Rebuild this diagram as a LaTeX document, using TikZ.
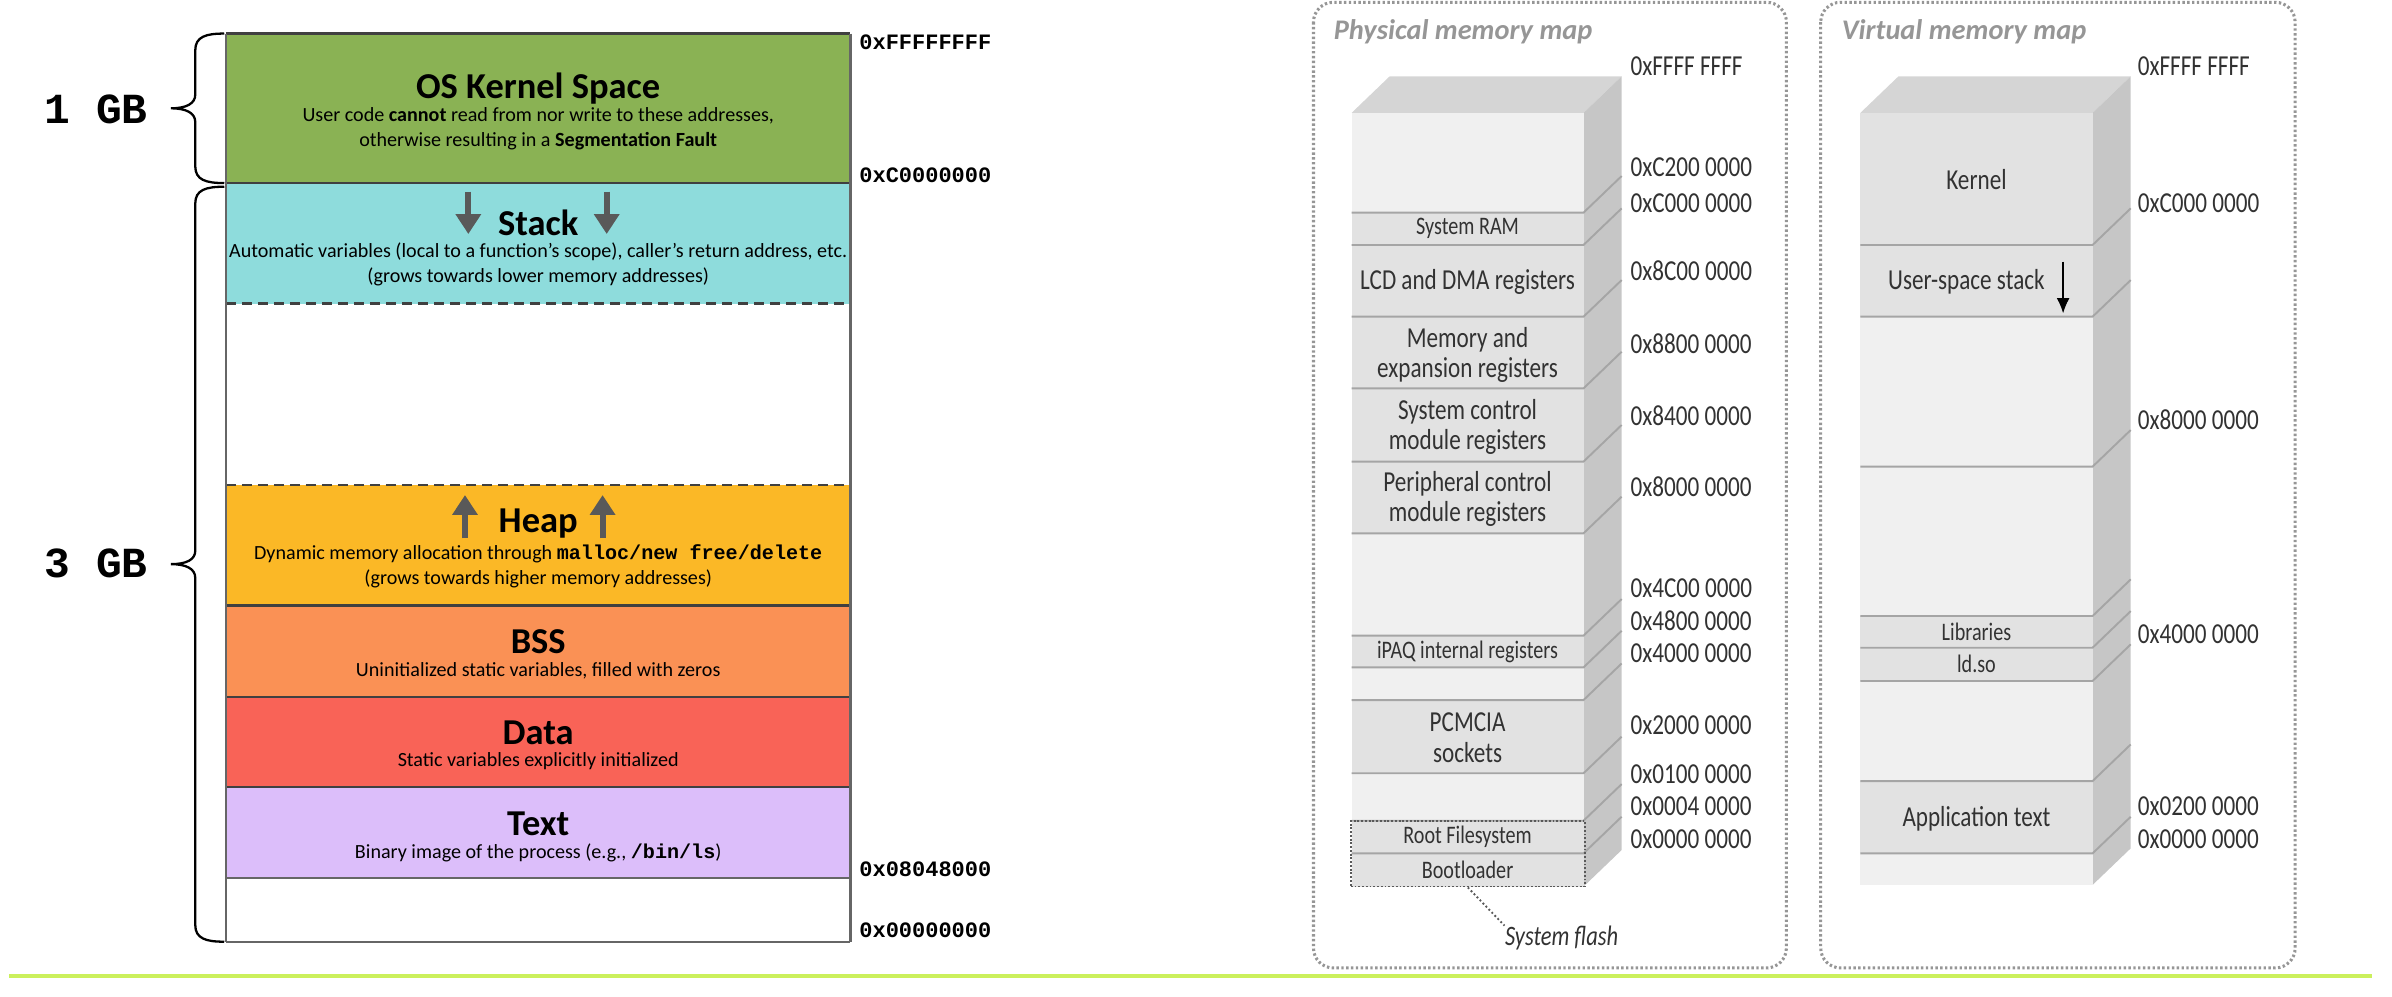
\documentclass[tikz,border=0pt]{standalone}
\usepackage{fontspec}
\setmainfont{Carlito}
\setmonofont{Liberation Mono}
\newfontfamily\condfont[FakeStretch=0.8]{Carlito}
\usetikzlibrary{arrows.meta}

\definecolor{kernelc}{RGB}{138,178,84}
\definecolor{stackc}{RGB}{142,220,220}
\definecolor{heapc}{RGB}{251,184,38}
\definecolor{bssc}{RGB}{250,145,85}
\definecolor{datac}{RGB}{249,99,87}
\definecolor{textc}{RGB}{220,190,250}
\definecolor{frontc}{RGB}{240,240,240}
\definecolor{usedc}{RGB}{226,226,226}
\definecolor{topc}{RGB}{213,213,213}
\definecolor{sidec}{RGB}{198,198,198}
\definecolor{sepc}{RGB}{165,165,165}
\definecolor{mapc}{RGB}{50,50,50}
\definecolor{panelc}{RGB}{150,150,150}
\definecolor{rulec}{RGB}{203,240,92}

\begin{document}
\begin{tikzpicture}[x=0.2mm, y=-0.2mm,
    segtitle/.style={font=\fontsize{13.6}{16}\selectfont\bfseries},
    segtext/.style={font=\fontsize{7.5}{9.4}\selectfont, align=center},
    addr/.style={anchor=west, inner sep=0pt, font=\fontsize{8.2}{10}\selectfont\ttfamily\bfseries},
    gblabel/.style={font=\fontsize{16}{18}\selectfont\ttfamily\bfseries},
    bound/.style={line width=0.3mm, black!75},
    splitline/.style={bound, dash pattern=on 1.3mm off 0.8mm},
    growarrow/.style={line width=0.8mm, black!65, -{Triangle[width=3.2mm, length=2.6mm]}},
    bracket/.style={line width=0.3mm},
    maplbl/.style={font=\condfont\fontsize{10.8}{11.3}\selectfont, text=mapc, align=center, inner sep=0pt},
    maplblsmall/.style={maplbl, font=\condfont\fontsize{9.4}{11}\selectfont},
    mapaddr/.style={anchor=west, inner sep=0pt, font=\condfont\fontsize{10.8}{12}\selectfont, text=mapc},
    sepline/.style={sepc, line width=0.25mm},
    panel/.style={panelc, line width=0.4mm, dash pattern=on 0.9pt off 0.9pt, rounded corners=2.6mm},
    maptitle/.style={anchor=west, inner sep=0pt, text=panelc, font=\fontsize{10.6}{12}\selectfont\bfseries\itshape},
    flashbox/.style={draw=black!65, line width=0.25mm, dash pattern=on 0.7pt off 0.7pt, inner sep=0pt, minimum width=30.7mm, minimum height=8.6mm},
    flashlbl/.style={font=\condfont\fontsize{10.5}{12}\selectfont\itshape, text=mapc, inner sep=0pt}]

    \useasboundingbox (0,0) rectangle (1568,653);

    %Segments
    \fill[kernelc] (148,22) rectangle (557.5,120);
    \fill[stackc] (148,120) rectangle (557.5,199);
    \fill[heapc] (148,318) rectangle (557.5,397);
    \fill[bssc] (148,397) rectangle (557.5,457);
    \fill[datac] (148,457) rectangle (557.5,516);
    \fill[textc] (148,516) rectangle (557.5,575.6);

    \draw[bound] (148,22) -- (557.5,22);
    \draw[bound] (148,120) -- (557.5,120);
    \draw[splitline] (148,199) -- (557.5,199);
    \draw[splitline] (148,318) -- (557.5,318);
    \draw[bound] (148,397) -- (557.5,397);
    \draw[bound] (148,457) -- (557.5,457);
    \draw[bound] (148,516) -- (557.5,516);
    \draw[bound, black!60] (148,575.6) -- (557.5,575.6);
    \draw[bound, black!60] (148,617.5) -- (557.5,617.5);
    \draw[bound, black!60] (148,22) -- (148,617.5);
    \draw[bound, black!60] (557.5,22) -- (557.5,617.5);

    \node[segtitle] (kerneltitle) at (352.8,57.9) {OS Kernel Space};
    \node[segtext] (kerneltext) at (352.8,84.2) {User code \textbf{cannot} read from nor write to these addresses,\\otherwise resulting in a \textbf{Segmentation Fault}};
    \node[segtitle] (stacktitle) at (352.8,146) {Stack};
    \node[segtext] (stacktext) at (352.8,173.4) {Automatic variables (local to a function's scope), caller's return address, etc.\\(grows towards lower memory addresses)};
    \node[segtitle] (heaptitle) at (352.8,343) {Heap};
    \node[segtext] (heaptext) at (352.8,371.2) {Dynamic memory allocation through \texttt{\textbf{malloc/new free/delete}}\\(grows towards higher memory addresses)};
    \node[segtitle] (bsstitle) at (352.8,420.6) {BSS};
    \node[segtext] (bsstext) at (352.8,439.9) {Uninitialized static variables, filled with zeros};
    \node[segtitle] (datatitle) at (352.8,480.3) {Data};
    \node[segtext] (datatext) at (352.8,498.9) {Static variables explicitly initialized};
    \node[segtitle] (texttitle) at (352.8,539.7) {Text};
    \node[segtext] (texttext) at (352.8,559) {Binary image of the process (e.g., \texttt{\textbf{/bin/ls}})};

    % growth arrows
    \draw[growarrow] (307,125.6) -- (307,153.4);
    \draw[growarrow] (397.7,125.6) -- (397.7,153.4);
    \draw[growarrow] (304.8,352.9) -- (304.8,324.5);
    \draw[growarrow] (395,352.9) -- (395,324.5);

    % addresses
    \node[addr] (afff) at (563,27.8) {0xFFFFFFFF};
    \node[addr] (ac00) at (563,114.7) {0xC0000000};
    \node[addr] (a804) at (563,570) {0x08048000};
    \node[addr] (a000) at (563,610) {0x00000000};

    % braces
    \draw[bracket] (147,22) .. controls (135,22) and (128,24) .. (128,33) -- (128,62)
        .. controls (128,68) and (122,71) .. (112,71) .. controls (122,71) and (128,74) .. (128,80)
        -- (128,109) .. controls (128,118) and (135,120) .. (147,120);
    \draw[bracket] (147,122.4) .. controls (135,122.4) and (128,124.4) .. (128,133.4) -- (128,361)
        .. controls (128,367) and (122,369.8) .. (112,369.8) .. controls (122,369.8) and (128,372.8) .. (128,378.8)
        -- (128,606.3) .. controls (128,615.3) and (135,617.3) .. (147,617.3);
    \node[gblabel] (onegb) at (63,72) {1 GB};
    \node[gblabel] (threegb) at (63,369.3) {3 GB};

    % Physical map
    \draw[panel] (861,1.5) rectangle (1171,634.5);
    \node[maptitle] (physmap) at (874,20.8) {Physical memory map};

    \fill[topc] (886,74) -- (911,50) -- (1063,50) -- (1038,74) -- cycle;
    \fill[sidec] (1038,74) -- (1063,50) -- (1063,557.2) -- (1038,581.2) -- cycle;
    \fill[frontc] (886,74) rectangle (1038,581.2);
    \fill[usedc] (886,139.4) rectangle (1038,349.6);
    \fill[usedc] (886,416.7) rectangle (1038,437.5);
    \fill[usedc] (886,458.9) rectangle (1038,506.9);
    \fill[usedc] (886,538) rectangle (1038,581.2);

    \draw[sepline] (886,139.4) -- (1038,139.4) -- (1063,115.4);
    \draw[sepline] (886,160.6) -- (1038,160.6) -- (1063,136.6);
    \draw[sepline] (886,207.6) -- (1038,207.6) -- (1063,183.6);
    \draw[sepline] (886,254.6) -- (1038,254.6) -- (1063,230.6);
    \draw[sepline] (886,302.6) -- (1038,302.6) -- (1063,278.6);
    \draw[sepline] (886,349.6) -- (1038,349.6) -- (1063,325.6);
    \draw[sepline] (886,416.7) -- (1038,416.7) -- (1063,392.7);
    \draw[sepline] (886,437.5) -- (1038,437.5) -- (1063,413.5);
    \draw[sepline] (886,458.9) -- (1038,458.9) -- (1063,434.9);
    \draw[sepline] (886,506.9) -- (1038,506.9) -- (1063,482.9);
    \draw[sepline] (886,538) -- (1038,538) -- (1063,514);
    \draw[sepline] (886,559.4) -- (1038,559.4) -- (1063,535.4);

    \node[maplblsmall] (sysram) at (962,150) {System RAM};
    \node[maplbl] (lcd) at (962,184.6) {LCD and DMA registers};
    \node[maplbl] (memexp) at (962,232.5) {Memory and\\expansion registers};
    \node[maplbl] (sysctl) at (962,280) {System control\\module registers};
    \node[maplbl] (periph) at (962,327) {Peripheral control\\module registers};
    \node[maplblsmall] (ipaq) at (962,427.1) {iPAQ internal registers};
    \node[maplbl] (pcmcia) at (962,483.5) {PCMCIA\\sockets};
    \node[maplblsmall] (rootfs) at (962,548.7) {Root Filesystem};
    \node[maplblsmall] (boot) at (962,570.3) {Bootloader};

    \node[flashbox] (flash) at (962.2,559.6) {};
    \node[flashlbl] (flashlbl) at (1023.7,615) {System flash};
    \draw[black!65, line width=0.25mm, dash pattern=on 0.7pt off 0.9pt] (flash.south) -- (flashlbl.north west);

    \node[mapaddr] (pffff) at (1068.5,43.7) {0xFFFF FFFF};
    \node[mapaddr] (pc200) at (1068.5,109.3) {0xC200 0000};
    \node[mapaddr] (pc000) at (1068.5,133.3) {0xC000 0000};
    \node[mapaddr] (p8c00) at (1068.5,177.4) {0x8C00 0000};
    \node[mapaddr] (p8800) at (1068.5,225.1) {0x8800 0000};
    \node[mapaddr] (p8400) at (1068.5,272.7) {0x8400 0000};
    \node[mapaddr] (p8000) at (1068.5,319) {0x8000 0000};
    \node[mapaddr] (p4c00) at (1068.5,385.7) {0x4C00 0000};
    \node[mapaddr] (p4800) at (1068.5,407.1) {0x4800 0000};
    \node[mapaddr] (p4000) at (1068.5,428.3) {0x4000 0000};
    \node[mapaddr] (p2000) at (1068.5,475.7) {0x2000 0000};
    \node[mapaddr] (p0100) at (1068.5,507.6) {0x0100 0000};
    \node[mapaddr] (p0004) at (1068.5,528.8) {0x0004 0000};
    \node[mapaddr] (p0000) at (1068.5,550) {0x0000 0000};

    % Virtual map
    \draw[panel] (1193.5,1.5) rectangle (1504.5,634.5);
    \node[maptitle] (virtmap) at (1207,20.8) {Virtual memory map};

    \fill[topc] (1219.5,74) -- (1244.5,50) -- (1396.7,50) -- (1371.7,74) -- cycle;
    \fill[sidec] (1371.7,74) -- (1396.7,50) -- (1396.7,556.1) -- (1371.7,580.1) -- cycle;
    \fill[frontc] (1219.5,74) rectangle (1371.7,580.1);
    \fill[usedc] (1219.5,74) rectangle (1371.7,207.6);
    \fill[usedc] (1219.5,403.8) rectangle (1371.7,446.4);
    \fill[usedc] (1219.5,512) rectangle (1371.7,559.4);

    \draw[sepline] (1219.5,160.6) -- (1371.7,160.6) -- (1396.7,136.6);
    \draw[sepline] (1219.5,207.6) -- (1371.7,207.6) -- (1396.7,183.6);
    \draw[sepline] (1219.5,305.9) -- (1371.7,305.9) -- (1396.7,281.9);
    \draw[sepline] (1219.5,403.8) -- (1371.7,403.8) -- (1396.7,379.8);
    \draw[sepline] (1219.5,424.6) -- (1371.7,424.6) -- (1396.7,400.6);
    \draw[sepline] (1219.5,446.4) -- (1371.7,446.4) -- (1396.7,422.4);
    \draw[sepline] (1219.5,512) -- (1371.7,512) -- (1396.7,488);
    \draw[sepline] (1219.5,559.4) -- (1371.7,559.4) -- (1396.7,535.4);

    \node[maplbl] (kern) at (1295.6,118) {Kernel};
    \node[maplbl] (ustack) at (1289,185) {User-space stack};
    \node[maplblsmall] (libs) at (1295.6,414.2) {Libraries};
    \node[maplblsmall] (ldso) at (1295.6,435.3) {ld.so};
    \node[maplbl] (apptext) at (1295.6,536.5) {Application text};
    \draw[-{Latex[length=2mm, width=1.7mm]}, line width=0.2mm] (1352.4,171.5) -- (1352.4,205.4);

    \node[mapaddr] (vffff) at (1401,43.7) {0xFFFF FFFF};
    \node[mapaddr] (vc000) at (1401,133.3) {0xC000 0000};
    \node[mapaddr] (v8000) at (1401,275.3) {0x8000 0000};
    \node[mapaddr] (v4000) at (1401,415.6) {0x4000 0000};
    \node[mapaddr] (v0200) at (1401,528.8) {0x0200 0000};
    \node[mapaddr] (v0000) at (1401,550) {0x0000 0000};

    %Rule
    \draw[rulec, line width=0.55mm] (6,640) -- (1555,640);

\end{tikzpicture}
\end{document}
